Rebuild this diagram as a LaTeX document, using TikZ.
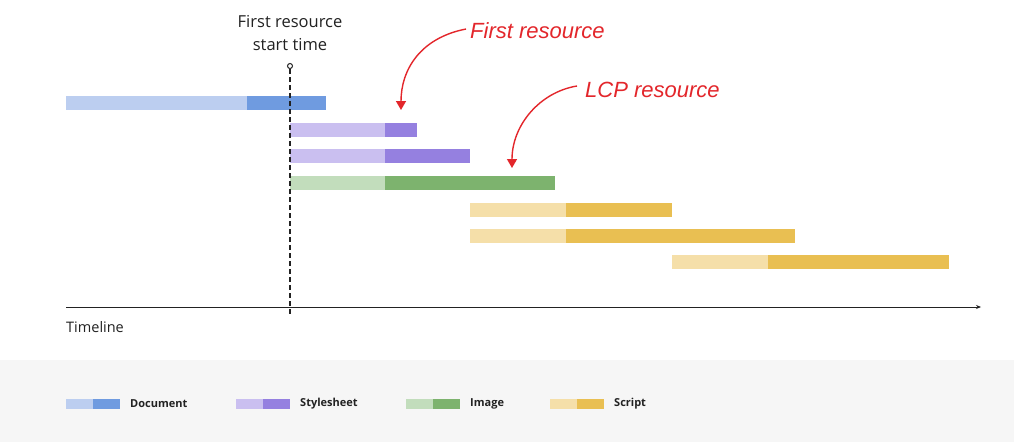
\documentclass[tikz,border=0pt]{standalone}
\usepackage{fontspec}
\setmainfont{Open Sans}
\newfontfamily\handfont{Liberation Sans}
\usetikzlibrary{arrows.meta}
\definecolor{docL}{HTML}{BCCEF0}
\definecolor{docD}{HTML}{6F9BE0}
\definecolor{cssL}{HTML}{CABFF0}
\definecolor{cssD}{HTML}{9580E0}
\definecolor{imgL}{HTML}{C2DDBC}
\definecolor{imgD}{HTML}{7DB36E}
\definecolor{jsL}{HTML}{F5DFA9}
\definecolor{jsD}{HTML}{E9BF52}
\definecolor{legbg}{HTML}{F6F6F6}
\definecolor{ink}{HTML}{222222}
\definecolor{anno}{HTML}{E3262B}
\newcommand\gbar[6]{%
  \fill[#5] (#2,#1-7) rectangle (#3,#1+7);
  \fill[#6] (#3,#1-7) rectangle (#4,#1+7);}
\newcommand\legsw[4]{%
  \fill[#3] (#1,399) rectangle (#1+27,409);
  \fill[#4] (#1+27,399) rectangle (#1+54,409);
  \node[legtext] at (#1+64,404) {#2};}
\tikzset{
  legtext/.style={anchor=west, inner sep=0pt, font=\fontsize{11}{13}\selectfont\bfseries, text=ink},
  hand/.style={inner sep=0pt, font=\handfont\itshape\fontsize{22}{26}\selectfont, text=anno},
  annoarrow/.style={draw=anno, line width=1.4pt, -{Triangle[length=9pt,width=10pt]}},
}
\begin{document}
\begin{tikzpicture}[x=1pt,y=-1pt]
\useasboundingbox (0,0) rectangle (1014,442);
\fill[white] (0,0) rectangle (1014,360);
\fill[legbg] (0,360) rectangle (1014,442);
% bars
\gbar{103}{66}{247}{326}{docL}{docD}
\gbar{130}{290}{385}{417}{cssL}{cssD}
\gbar{156}{290}{385}{470}{cssL}{cssD}
\gbar{183}{290}{385}{555}{imgL}{imgD}
\gbar{210}{470}{566}{672}{jsL}{jsD}
\gbar{236}{470}{566}{795}{jsL}{jsD}
\gbar{262}{672}{768}{949}{jsL}{jsD}
% axis
\coordinate (ax0) at (66,307);
\coordinate (ax1) at (981,307);
\draw[ink, line width=1pt, -{Stealth[length=5pt,width=4pt]}] (ax0) -- (ax1);
\node[anchor=west, inner sep=0pt, font=\fontsize{14.5}{17}\selectfont, text=ink] (tl) at (66,327) {Timeline};
% start marker
\coordinate (mk) at (290,66);
\coordinate (mkb) at (290,314);
\draw[ink, line width=1.3pt, dash pattern=on 5pt off 3pt] (290,69) -- (mkb);
\draw[ink, line width=1pt, fill=white] (mk) circle (2.5);
\node[align=center, inner sep=0pt, font=\fontsize{16.5}{23}\selectfont, text=ink] (st) at (290,33) {First resource\\start time};
% annotations
\node[hand, anchor=west] (a1) at (470,31) {First resource};
\node[hand, anchor=west] (a2) at (585,90) {LCP resource};
\coordinate (t1) at (401,110);
\coordinate (t2) at (512,168);
\draw[annoarrow] (a1.west) ++(-4,-2) .. controls (420,38) and (401,70) .. (t1);
\draw[annoarrow] (a2.west) ++(-8,-4) .. controls (540,92) and (512,125) .. (t2);
% legend
\legsw{66}{Document}{docL}{docD}
\legsw{236}{Stylesheet}{cssL}{cssD}
\legsw{406}{Image}{imgL}{imgD}
\legsw{550}{Script}{jsL}{jsD}
\end{tikzpicture}
\end{document}
